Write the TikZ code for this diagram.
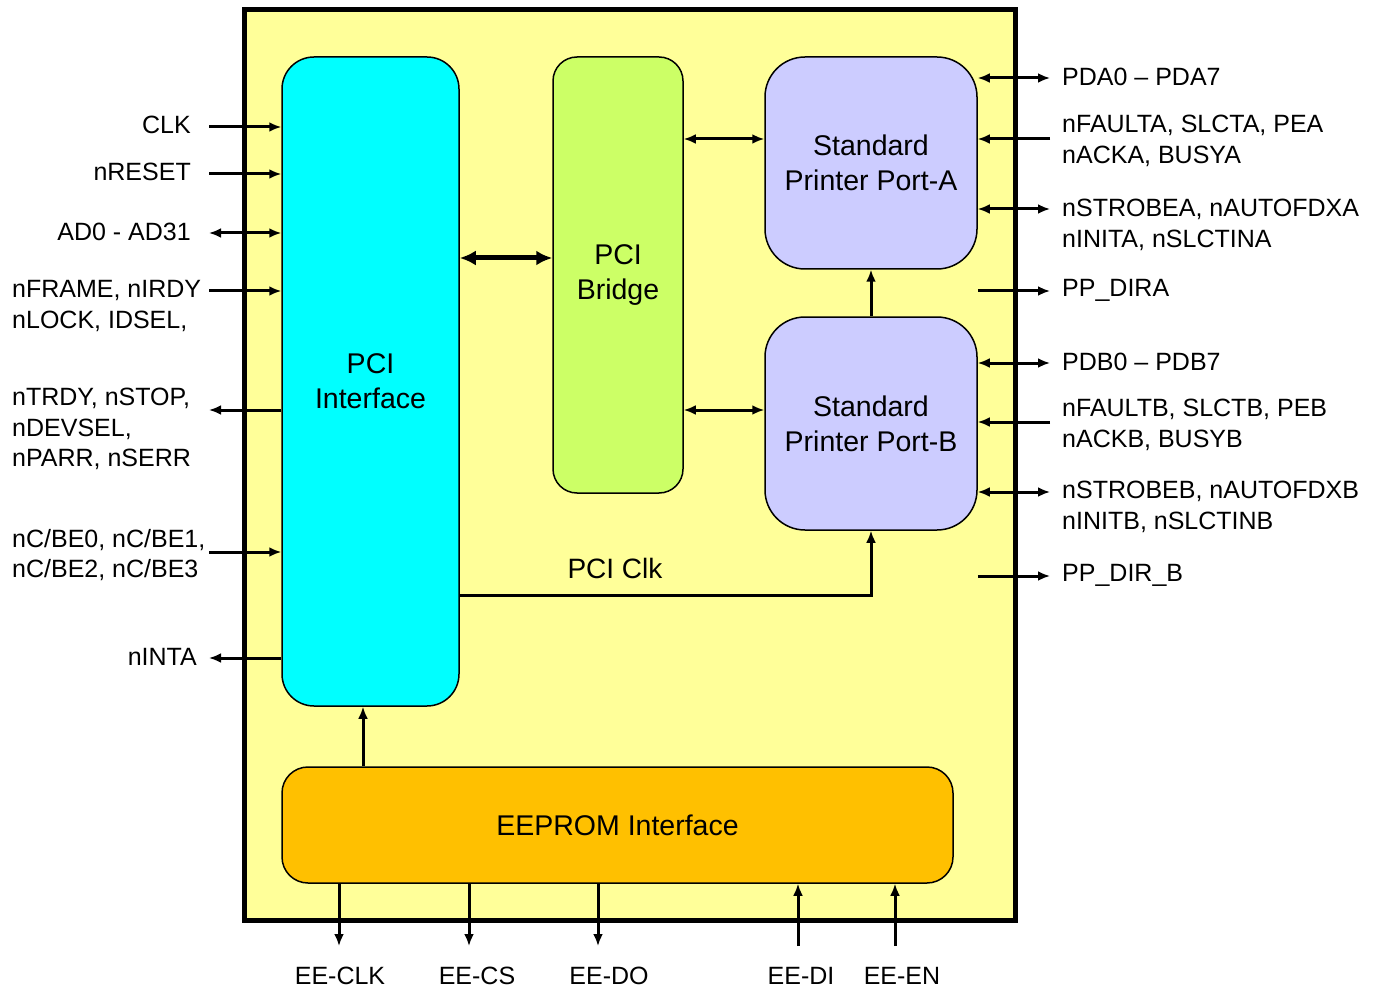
\documentclass[tikz,border=0pt]{standalone}
\usepackage{fontspec}
\setmainfont{Liberation Sans}
\usetikzlibrary{arrows.meta}
\definecolor{bgyellow}{HTML}{FFFF99}
\definecolor{pcicyan}{HTML}{00FFFF}
\definecolor{bridgegreen}{HTML}{CCFF66}
\definecolor{portlav}{HTML}{CCCCFF}
\definecolor{eeorange}{HTML}{FFC000}
\begin{document}
\begin{tikzpicture}[x=1pt,y=-1pt,
  blk/.style={draw=black, line width=1.5pt, rounded corners=#1, inner sep=0pt, align=center,
    font=\fontsize{28.5}{35}\selectfont},
  blk/.default=30pt,
  lbl/.style={inner sep=0pt, align=left, font=\fontsize{25}{30.5}\selectfont},
  sig/.style={line width=3pt, -{Latex[length=12pt,width=10pt]}},
  dsig/.style={line width=3pt, {Latex[length=12pt,width=10pt]}-{Latex[length=12pt,width=10pt]}},
  bsig/.style={line width=5pt, {Latex[length=16pt,width=15pt]}-{Latex[length=16pt,width=15pt]}}
]
\useasboundingbox (0,0) rectangle (1381,992);
\fill[white] (0,0) rectangle (1381,992);

% outer chip
\node[draw=black, line width=5pt, fill=bgyellow, inner sep=0pt, minimum width=771pt, minimum height=910pt] (chip) at (629.5,465) {};

% blocks
\node[blk=32pt, fill=pcicyan, minimum width=177pt, minimum height=649pt] (pci) at (370.5,381.5) {PCI\\Interface};
\node[blk=24pt, fill=bridgegreen, minimum width=130pt, minimum height=436pt] (bridge) at (618,275) {PCI\\Bridge};
\node[blk=40pt, fill=portlav, minimum width=212pt, minimum height=212pt] (portA) at (871,163) {Standard\\Printer Port-A};
\node[blk=40pt, fill=portlav, minimum width=212pt, minimum height=213pt] (portB) at (871,423.5) {Standard\\Printer Port-B};
\node[blk=26pt, fill=eeorange, minimum width=671pt, minimum height=116pt] (eeprom) at (617.5,825) {EEPROM Interface};

% internal connectors
\coordinate (yBA) at (0,139);
\coordinate (yBB) at (0,410);
\coordinate (yPB) at (0,258);
\draw[bsig] (pci.east |- yPB) -- (bridge.west |- yPB);
\draw[dsig] (bridge.east |- yBA) -- (portA.west |- yBA);
\draw[dsig] (bridge.east |- yBB) -- (portB.west |- yBB);
\draw[sig] (portB.north) -- (portA.south);
\coordinate (pciclk) at (459,595);
\draw[sig] (pciclk) -| (portB.south);
\node[inner sep=0pt, font=\fontsize{28}{34}\selectfont] (pciclklbl) at (615,568) {PCI Clk};
\coordinate (eex) at (363,0);
\draw[sig] (eeprom.north -| eex) -- (pci.south -| eex);

% left side signals
\coordinate (lCLK) at (209,127);
\coordinate (lRST) at (209,174);
\coordinate (lAD) at (209,233);
\coordinate (lFRM) at (209,291);
\coordinate (lTRDY) at (209,410);
\coordinate (lCBE) at (209,552);
\coordinate (lINTA) at (209,658);
\draw[sig] (lCLK) -- (lCLK -| pci.west);
\draw[sig] (lRST) -- (lRST -| pci.west);
\draw[dsig] (lAD) -- (lAD -| pci.west);
\draw[sig] (lFRM) -- (lFRM -| pci.west);
\draw[sig] (lTRDY -| pci.west) -- (lTRDY);
\draw[sig] (lCBE) -- (lCBE -| pci.west);
\draw[sig] (lINTA -| pci.west) -- (lINTA);
\node[lbl, anchor=east] (tCLK) at (191,125) {CLK};
\node[lbl, anchor=east] (tRST) at (191,172) {nRESET};
\node[lbl, anchor=east] (tAD) at (191,232) {AD0 - AD31};
\node[lbl, anchor=west] (tFRM) at (12,306) {nFRAME, nIRDY\\nLOCK, IDSEL,};
\node[lbl, anchor=west] (tTRDY) at (12,429) {nTRDY, nSTOP,\\nDEVSEL,\\nPARR, nSERR};
\node[lbl, anchor=west] (tCBE) at (12,555) {nC/BE0, nC/BE1,\\nC/BE2, nC/BE3};
\node[lbl, anchor=east] (tINTA) at (197,657) {nINTA};

% right side signals
\coordinate (rPDA) at (1050,78);
\coordinate (rFLTA) at (1050,139);
\coordinate (rSTBA) at (1050,209);
\coordinate (rDIRA) at (1050,291);
\coordinate (rPDB) at (1050,363);
\coordinate (rFLTB) at (1050,422);
\coordinate (rSTBB) at (1050,492);
\coordinate (rDIRB) at (1050,576);
\draw[dsig] (rPDA -| portA.east) -- (rPDA);
\draw[sig] (rFLTA) -- (rFLTA -| portA.east);
\draw[dsig] (rSTBA -| portA.east) -- (rSTBA);
\draw[sig] (rDIRA -| portA.east) -- (rDIRA);
\draw[dsig] (rPDB -| portB.east) -- (rPDB);
\draw[sig] (rFLTB) -- (rFLTB -| portB.east);
\draw[dsig] (rSTBB -| portB.east) -- (rSTBB);
\draw[sig] (rDIRB -| portB.east) -- (rDIRB);
\node[lbl, anchor=west] (tPDA) at (1062,77) {PDA0 – PDA7};
\node[lbl, anchor=west] (tFLTA) at (1062,141) {nFAULTA, SLCTA, PEA\\nACKA, BUSYA};
\node[lbl, anchor=west] (tSTBA) at (1062,225) {nSTROBEA, nAUTOFDXA\\nINITA, nSLCTINA};
\node[lbl, anchor=west] (tDIRA) at (1062,290) {PP\_DIRA};
\node[lbl, anchor=west] (tPDB) at (1062,362) {PDB0 – PDB7};
\node[lbl, anchor=west] (tFLTB) at (1062,425) {nFAULTB, SLCTB, PEB\\nACKB, BUSYB};
\node[lbl, anchor=west] (tSTBB) at (1062,507) {nSTROBEB, nAUTOFDXB\\nINITB, nSLCTINB};
\node[lbl, anchor=west] (tDIRB) at (1062,575) {PP\_DIR\_B};

% bottom signals
\coordinate (bCLK) at (339,946);
\coordinate (bCS) at (469,946);
\coordinate (bDO) at (598,946);
\coordinate (bDI) at (798,946);
\coordinate (bEN) at (895,946);
\draw[sig] (bCLK |- eeprom.south) -- (bCLK);
\draw[sig] (bCS |- eeprom.south) -- (bCS);
\draw[sig] (bDO |- eeprom.south) -- (bDO);
\draw[sig] (bDI) -- (bDI |- eeprom.south);
\draw[sig] (bEN) -- (bEN |- eeprom.south);
\node[lbl] (tbCLK) at (340,976) {EE-CLK};
\node[lbl] (tbCS) at (477,976) {EE-CS};
\node[lbl] (tbDO) at (609,976) {EE-DO};
\node[lbl] (tbDI) at (801,976) {EE-DI};
\node[lbl] (tbEN) at (902,976) {EE-EN};
\end{tikzpicture}
\end{document}
